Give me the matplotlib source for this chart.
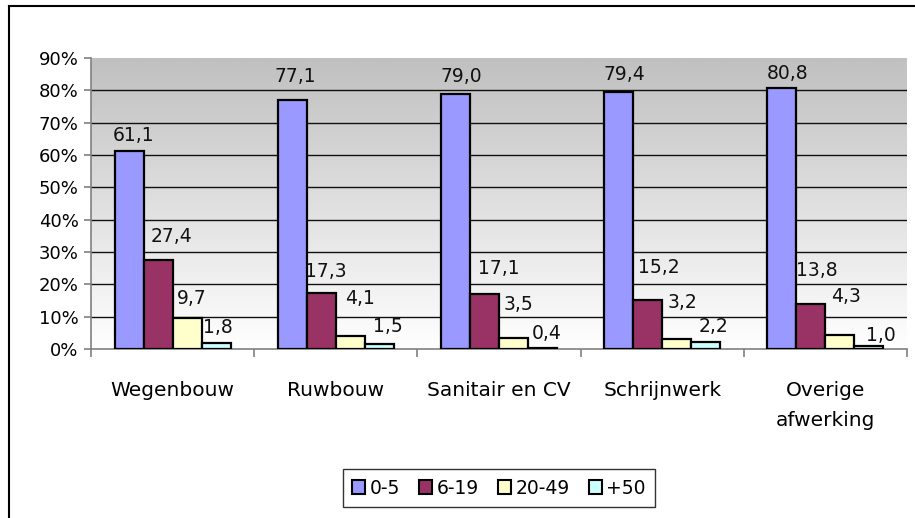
import numpy as np
import matplotlib
matplotlib.use("Agg")
import matplotlib.pyplot as plt
from matplotlib.patches import Patch
from matplotlib.lines import Line2D

# data
categories = ["Wegenbouw", "Ruwbouw", "Sanitair en CV", "Schrijnwerk", "Overige\nafwerking"]
series_names = ["0-5", "6-19", "20-49", "+50"]
v_0_5 = [61.1, 77.1, 79.0, 79.4, 80.8]
v_6_19 = [27.4, 17.3, 17.1, 15.2, 13.8]
v_20_49 = [9.7, 4.1, 3.5, 3.2, 4.3]
v_50 = [1.8, 1.5, 0.4, 2.2, 1.0]
series_values = [v_0_5, v_6_19, v_20_49, v_50]
colors = ["#9999FF", "#993366", "#FFFFCC", "#CCFFFF"]
y_ticks = [0, 10, 20, 30, 40, 50, 60, 70, 80, 90]

# label nudges in pixels (dx, gap above bar), as placed in the original sheet
label_dx = [[5, 3, 6, 6, 6], [13, 5, 14, 11, 6], [5, 10, 5, 6, 6], [2, 9, 4, 8, 12]]
label_gap = [[10, 18, 12, 12, 9], [18, 16, 20, 27, 28], [14, 32, 28, 31, 33], [10, 12, 9, 10, 5]]

plt.rcParams["font.family"] = ["DejaVu Sans"]

W, H = 915, 518
fig = plt.figure(figsize=(W / 100, H / 100), dpi=100, facecolor="white")

# outer chart frame (only top and left edges are visible in the crop)
fig.add_artist(Line2D([9 / W, 9 / W], [0, 1 - 6 / H], transform=fig.transFigure,
                      color="black", lw=1.5))
fig.add_artist(Line2D([9 / W, 1], [1 - 6 / H, 1 - 6 / H], transform=fig.transFigure,
                      color="black", lw=1.5))

left, right, top, bottom = 91 / W, 907 / W, 1 - 58 / H, 1 - 349 / H
ax = fig.add_axes([left, bottom, right - left, top - bottom])

n = len(categories)
ax.set_xlim(-0.5, n - 0.5)
ax.set_ylim(0, 90)

# gray-to-white gradient background
grad = np.linspace(0, 1, 256).reshape(-1, 1)
ax.imshow(grad, cmap=matplotlib.colors.LinearSegmentedColormap.from_list(
    "bg", ["#ffffff", "#c0c0c0"]), aspect="auto", origin="lower",
    extent=(-0.5, n - 0.5, 0, 90), zorder=0)

for y in y_ticks[1:-1]:
    ax.axhline(y, color="#111111", lw=1.0, zorder=1)

bw = 0.178
x = np.arange(n)
for i, (vals, col) in enumerate(zip(series_values, colors)):
    xs = x + (i - 1.5) * bw
    ax.bar(xs, vals, width=bw, color=col, edgecolor="black", linewidth=1.6, zorder=3)
    for j, (xi, v) in enumerate(zip(xs, vals)):
        ax.annotate(f"{v:.1f}".replace(".", ","), (xi, v),
                    xytext=(label_dx[i][j] * 0.72, label_gap[i][j] * 0.72),
                    textcoords="offset points", ha="center", va="baseline",
                    fontsize=13.5, color="#111111", zorder=4)

for s in ["top", "right"]:
    ax.spines[s].set_visible(False)
ax.spines["left"].set_color("#808080")
ax.spines["bottom"].set_color("#808080")
ax.spines["left"].set_linewidth(1.2)
ax.spines["bottom"].set_linewidth(1.2)

ax.set_yticks(y_ticks)
ax.set_yticklabels([f"{t}%" for t in y_ticks], fontsize=13)
ax.tick_params(axis="y", length=5, width=1.2, color="#808080", pad=4)

ax.set_xticks(np.arange(n + 1) - 0.5, minor=False)
ax.set_xticklabels([])
ax.tick_params(axis="x", which="major", length=6, width=1.2, color="#808080", direction="out")
ax.set_xticks(x, minor=True)
ax.set_xticklabels(categories, minor=True, fontsize=14.5, linespacing=1.75)
ax.tick_params(axis="x", which="minor", length=0, pad=23)

handles = [Patch(facecolor=c, edgecolor="black", linewidth=1.5, label=s)
           for c, s in zip(colors, series_names)]
leg = fig.legend(handles=handles, loc="center", bbox_to_anchor=(499 / W, 1 - 488 / H),
                 ncol=4, fontsize=13.5, frameon=True, fancybox=False,
                 handlelength=0.7, handleheight=0.7, handletextpad=0.25,
                 columnspacing=1.0, borderpad=0.5)
leg.get_frame().set_edgecolor("black")
leg.get_frame().set_linewidth(1.0)

fig.savefig("out.png", dpi=100, facecolor="white")
